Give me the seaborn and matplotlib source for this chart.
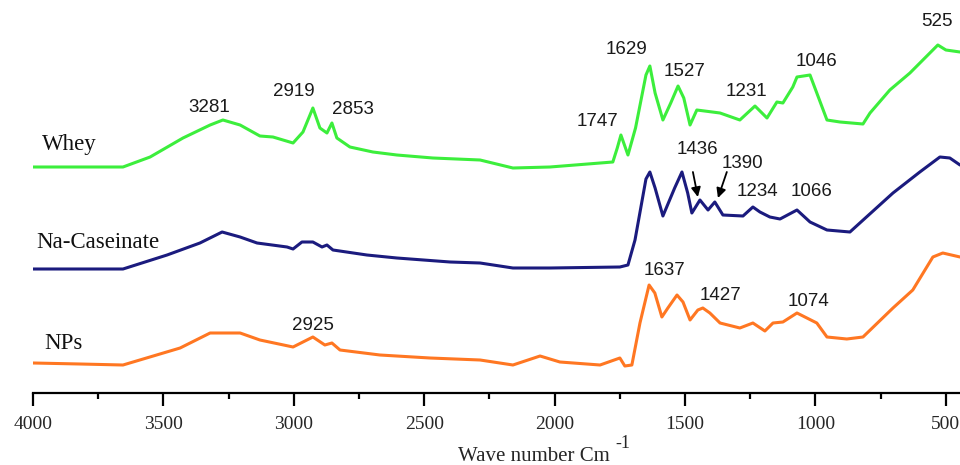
import numpy as np
import pandas as pd
import matplotlib
matplotlib.use("Agg")
import matplotlib.pyplot as plt
import seaborn as sns
from matplotlib.ticker import MultipleLocator

# ---------------- data (wavenumber cm-1, relative intensity, offset spectra) -------------
whey_wn = [4000, 3655, 3551, 3425, 3321, 3272, 3206, 3130, 3080, 3003, 2965, 2927, 2900,
           2873, 2854, 2835, 2785, 2697, 2605, 2467, 2286, 2160, 2018, 1777, 1760, 1746,
           1719, 1690, 1650, 1635, 1615, 1585, 1555, 1527, 1505, 1481, 1455, 1366, 1290,
           1232, 1186, 1148, 1125, 1087, 1071, 1021, 956, 906, 818, 791, 715, 638, 531,
           500, 446]
whey_val = [226, 226, 236, 255, 268, 273, 268, 257, 256, 250, 261, 285, 265,
            260, 270, 255, 246, 241, 238, 235, 233, 225, 226, 231, 245, 258,
            238, 265, 318, 327, 300, 273, 290, 307, 295, 268, 283, 280, 273,
            287, 275, 291, 290, 306, 316, 318, 273, 271, 269, 280, 303, 320, 348,
            343, 341]

cas_wn = [4000, 3655, 3486, 3360, 3275, 3206, 3141, 3026, 3003, 2969, 2927, 2892, 2873,
          2850, 2720, 2605, 2401, 2286, 2160, 2018, 1750, 1719, 1692, 1650, 1635, 1615,
          1585, 1540, 1512, 1490, 1474, 1443, 1412, 1386, 1355, 1278, 1240, 1213, 1175,
          1136, 1071, 1021, 956, 868, 830, 703, 600, 523, 485, 446]
cas_val = [124, 124, 138, 150, 161, 156, 150, 146, 144, 151, 151, 146, 148,
           143, 138, 135, 131, 130, 125, 125, 126, 128, 153, 214, 221, 205,
           177, 205, 221, 200, 180, 193, 183, 191, 178, 177, 186, 181, 176,
           174, 183, 171, 163, 161, 170, 200, 221, 236, 235, 228]

nps_wn = [4000, 3820, 3655, 3436, 3321, 3206, 3130, 3003, 2927, 2881, 2854, 2823, 2670,
          2478, 2286, 2160, 2056, 1980, 1826, 1750, 1731, 1704, 1673, 1638, 1616, 1589,
          1566, 1531, 1508, 1481, 1451, 1432, 1405, 1366, 1290, 1240, 1194, 1163, 1125,
          1071, 995, 956, 880, 818, 703, 627, 550, 512, 446]
nps_val = [30, 29, 28, 45, 60, 60, 53, 46, 56, 48, 50, 43, 38,
           35, 33, 28, 37, 31, 28, 35, 27, 28, 70, 108, 100, 76,
           85, 98, 91, 73, 83, 85, 80, 70, 65, 70, 62, 70, 71,
           80, 70, 56, 54, 56, 85, 103, 136, 140, 136]

samples = ["Whey", "Na-Caseinate", "NPs"]
colors = ["#3cee3c", "#1b1b7e", "#ff7722"]

# peak labels: (text, wavenumber position, intensity position)
peak_labels = [("3281", 3325, 286), ("2919", 3000, 302), ("2853", 2773, 284),
               ("1747", 1834, 271), ("1629", 1723, 344), ("1527", 1501, 322),
               ("1231", 1263, 301), ("1046", 995, 332), ("525", 535, 372),
               ("1436", 1451, 244), ("1390", 1282, 229), ("1234", 1221, 201),
               ("1066", 1014, 201), ("1637", 1577, 123), ("1427", 1363, 98),
               ("1074", 1025, 92), ("2925", 2927, 68)]
# arrows: (from wn, from val, to wn, to val)
arrows = [(1470, 221, 1451, 196), (1340, 221, 1374, 195)]
# sample name positions (wn, val)
name_pos = [(3965, 243), (3988, 145), (3958, 44)]

# ---------------- build frame ----------------
df = pd.concat([
    pd.DataFrame({"wavenumber": whey_wn, "value": whey_val, "sample": "Whey"}),
    pd.DataFrame({"wavenumber": cas_wn, "value": cas_val, "sample": "Na-Caseinate"}),
    pd.DataFrame({"wavenumber": nps_wn, "value": nps_val, "sample": "NPs"}),
], ignore_index=True)

sns.set_style("white")
plt.rcParams["mathtext.fontset"] = "stix"
plt.rcParams["font.family"] = ["Liberation Serif", "DejaVu Serif"]

fig = plt.figure(figsize=(9.6, 4.65), dpi=100)
ax = fig.add_axes([33 / 960, 1 - 393 / 465, 1 - 33 / 960, 393 / 465])

sns.lineplot(data=df, x="wavenumber", y="value", hue="sample", hue_order=samples,
             palette=colors, sort=False, estimator=None, legend=False,
             linewidth=2.2, ax=ax)
for ln in ax.lines:
    ln.set_solid_joinstyle("round")

ax.set_xlim(4000, 446)
ax.set_ylim(0, 393)

for s in ["top", "right", "left"]:
    ax.spines[s].set_visible(False)
ax.spines["bottom"].set_linewidth(1.6)
ax.spines["bottom"].set_color("black")
ax.set_yticks([])
ax.set_ylabel("")
ax.xaxis.set_major_locator(MultipleLocator(500))
ax.xaxis.set_minor_locator(MultipleLocator(250))
ax.tick_params(axis="x", which="major", direction="out", length=9.5, width=1.6,
               color="black", labelsize=14, pad=7, bottom=True)
ax.tick_params(axis="x", which="minor", direction="out", length=4, width=1.6,
               color="black", bottom=True)
ax.set_xlabel("")
fig.text(458 / 960, 4 / 465, "Wave number Cm", fontsize=15, ha="left",
         va="baseline", family=["Liberation Serif"])
fig.text(615 / 960, 17 / 465, "-1", fontsize=13, ha="left",
         va="baseline", family=["Liberation Serif"])

for (name, (wx, wy)) in zip(samples, name_pos):
    ax.text(wx, wy, name, fontsize=16.5, ha="left", va="baseline",
            family=["Liberation Serif"], color="#111111")

for txt, wx, wy in peak_labels:
    ax.text(wx, wy, txt, fontsize=13.5, ha="center", va="center",
            family=["Liberation Sans"], color="#1a1a1a")

for x0, y0, x1, y1 in arrows:
    ax.annotate("", xy=(x1, y1), xytext=(x0, y0),
                arrowprops=dict(arrowstyle="-|>", color="black", lw=1.3,
                                mutation_scale=14, shrinkA=0, shrinkB=0))

fig.savefig("out.png", dpi=100)
